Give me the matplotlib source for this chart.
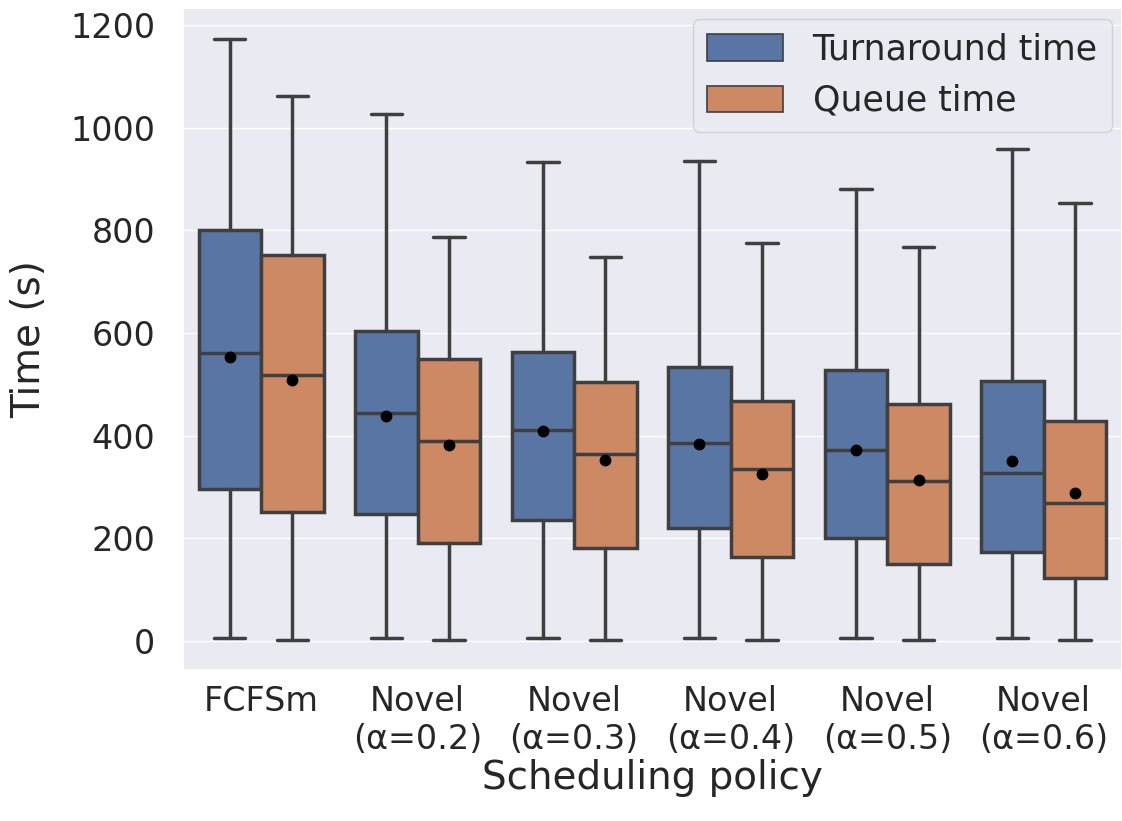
import matplotlib
matplotlib.use("Agg")
import matplotlib.pyplot as plt
import matplotlib.patches as mpatches
import numpy as np
import seaborn as sns

# values (seconds)
policies = ["FCFSm", "Novel\n(α=0.2)", "Novel\n(α=0.3)", "Novel\n(α=0.4)",
            "Novel\n(α=0.5)", "Novel\n(α=0.6)"]

turn_low = [6, 6, 6, 6, 6, 6]
turn_q1 = [295, 247, 236, 220, 200, 173]
turn_med = [560, 444, 410, 385, 371, 327]
turn_q3 = [800, 604, 563, 533, 527, 507]
turn_high = [1173, 1027, 933, 936, 881, 958]
turn_mean = [554, 438, 408, 383, 372, 350]

queue_low = [2, 2, 2, 2, 2, 2]
queue_q1 = [251, 191, 181, 163, 150, 123]
queue_med = [518, 390, 364, 334, 312, 268]
queue_q3 = [752, 550, 505, 468, 461, 428]
queue_high = [1061, 787, 748, 776, 768, 853]
queue_mean = [508, 381, 352, 325, 313, 288]

sns.set_theme(style="darkgrid")

fig = plt.figure(figsize=(11.22, 8.21), dpi=100)
ax = fig.add_axes([0.163, 0.184, 0.837, 0.806])

blue = "#5975a4"
orange = "#cc8963"
edge = "#3f3f3f"


def make_stats(low, q1, med, q3, high, mean):
    return [dict(whislo=a, q1=b, med=c, q3=d, whishi=e, mean=f, fliers=[])
            for a, b, c, d, e, f in zip(low, q1, med, q3, high, mean)]


x = np.arange(len(policies))
series = [
    (make_stats(turn_low, turn_q1, turn_med, turn_q3, turn_high, turn_mean), x - 0.2, blue),
    (make_stats(queue_low, queue_q1, queue_med, queue_q3, queue_high, queue_mean), x + 0.2, orange),
]
for stats, pos, col in series:
    ax.bxp(stats, positions=pos, widths=0.4, patch_artist=True, showmeans=True,
           showfliers=False, capwidths=0.2,
           boxprops=dict(facecolor=col, edgecolor=edge, linewidth=2.5),
           whiskerprops=dict(color=edge, linewidth=2.5),
           capprops=dict(color=edge, linewidth=2.5),
           medianprops=dict(color=edge, linewidth=2.5),
           meanprops=dict(marker="o", markerfacecolor="black",
                          markeredgecolor="black", markersize=7.5))

ax.set_xlim(-0.5, len(policies) - 0.5)
ax.set_ylim(-57, 1233)
ax.set_xticks(x)
ax.set_xticklabels(policies, fontsize=24)
ax.set_yticks(np.arange(0, 1201, 200))
ax.tick_params(axis="y", labelsize=24, pad=14)
ax.tick_params(axis="x", pad=5)
ax.set_xlabel("Scheduling policy", fontsize=28, labelpad=2)
ax.set_ylabel("Time (s)", fontsize=28, labelpad=16)
ax.grid(axis="x", visible=False)

handles = [mpatches.Patch(facecolor=blue, edgecolor=edge, linewidth=1.2, label="Turnaround time"),
           mpatches.Patch(facecolor=orange, edgecolor=edge, linewidth=1.2, label="Queue time")]
ax.legend(handles=handles, loc="upper right", fontsize=25, handlelength=2.2,
          handleheight=0.8, handletextpad=0.85, borderaxespad=0.3)

fig.savefig("out.png", dpi=100)
